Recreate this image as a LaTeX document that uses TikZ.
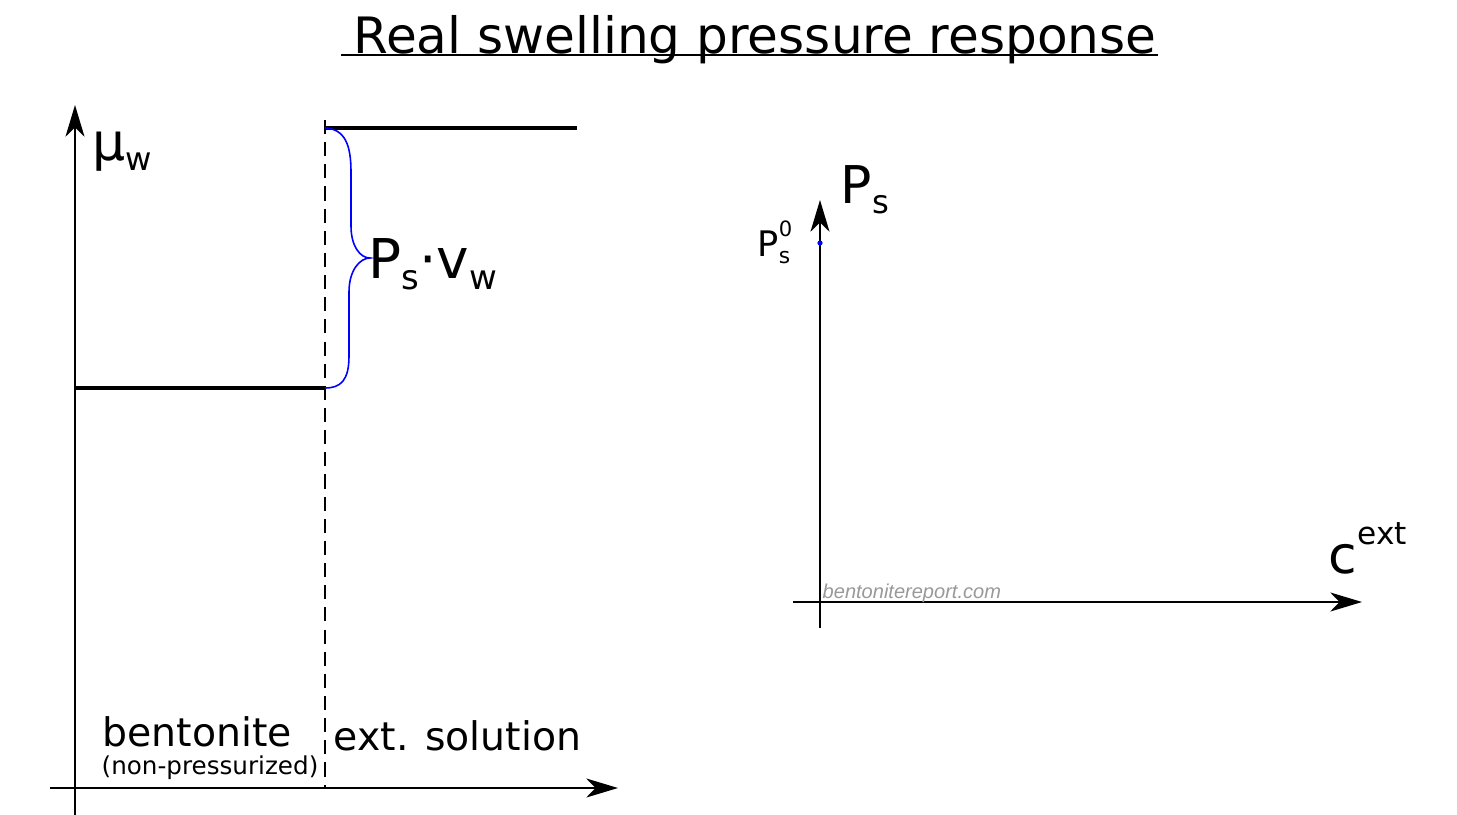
\documentclass[tikz,border=0pt]{standalone}
\usepackage{fontspec}
\setmainfont{DejaVu Sans}
\newfontfamily\markfont{Liberation Sans}
\usetikzlibrary{arrows.meta, positioning}
\newcommand\lowr[1]{\raisebox{-0.21em}{\scalebox{0.62}{#1}}}
\newcommand\upr[1]{\raisebox{0.55em}{\scalebox{0.6}{#1}}}

\begin{document}
\begin{tikzpicture}[x=0.01cm,y=-0.01cm,
  axis/.style={line width=0.55pt,-{Stealth[length=9pt,width=5.4pt,inset=2.6pt]}},
  level/.style={line width=0.9pt},
  bound/.style={line width=0.5pt,dash pattern=on 4pt off 2.3pt},
  brc/.style={draw=blue,line width=0.45pt},
  lbl/.style={inner sep=0pt,anchor=base west},
  big/.style={font=\fontsize{14.8}{17}\selectfont},
  mid/.style={font=\fontsize{11.2}{13}\selectfont}
]
  \useasboundingbox (0,0) rectangle (1457,815);

  % title
  \node[inner sep=0pt,anchor=base,font=\fontsize{14.25}{17}\selectfont](title) at (755,53){Real swelling pressure response};
  \draw[line width=0.6pt](341,55)--(1158,55);

  % left plot
  \coordinate (ly0) at (75,815);  \coordinate (ly1) at (75,105);
  \coordinate (lx0) at (50,788);  \coordinate (lx1) at (618,788);
  \coordinate (bl) at (75,388);   \coordinate (br) at (325,388);
  \coordinate (bt) at (325,120);  \coordinate (bb) at (325,788);
  \coordinate (el) at (325,128);  \coordinate (er) at (577,128);
  \draw[axis](ly0)--(ly1);
  \draw[axis](lx0)--(lx1);
  \draw[level](bl)--(br);
  \draw[level](el)--(er);
  \draw[bound](bt)--(bb);
  \draw[brc](el) .. controls (345,129) and (351,145) .. (351,172) -- (351,226)
    .. controls (351,246) and (360,258) .. (370,258)
    .. controls (360,258) and (349,270) .. (349,292) -- (349,356)
    .. controls (349,380) and (341,388) .. (br);

  \node[lbl,big](muw) at (92,160){μ\lowr{w}};
  \node[lbl,font=\fontsize{15.6}{18}\selectfont](psvw) at (368,278){P\lowr{s}·v\lowr{w}};
  \node[lbl,mid](bent) at (102,746){bentonite};
  \node[lbl,font=\fontsize{7}{8}\selectfont](np) at (101,774){(non-pressurized)};
  \node[lbl,mid](ext) at (333,750){ext. solution};

  % right plot
  \coordinate (ry0) at (820,628);  \coordinate (ry1) at (820,200);
  \coordinate (rx0) at (793,602);  \coordinate (rx1) at (1362,602);
  \draw[axis](ry0)--(ry1);
  \draw[axis](rx0)--(rx1);
  \fill[blue](820,243) circle (2.6);

  \node[lbl,big](ps) at (840,203){P\lowr{s}};
  \node[lbl,font=\fontsize{10}{12}\selectfont](ps0) at (757,256){P\rlap{\upr{0}}\lowr{s}};
  \node[lbl,big](cext) at (1328,573){c\upr{ext}};
  \node[lbl,text=gray!80,font=\markfont\itshape\fontsize{5.7}{7}\selectfont](mark) at (822,598){bentonitereport.com};
\end{tikzpicture}
\end{document}
